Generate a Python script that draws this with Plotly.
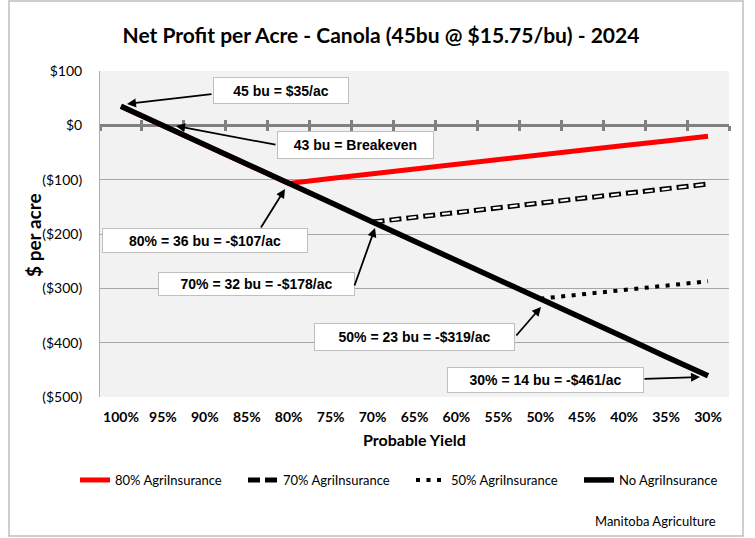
import plotly.graph_objects as go

# ---------------- data ----------------
categories = ["100%", "95%", "90%", "85%", "80%", "75%", "70%", "65%",
              "60%", "55%", "50%", "45%", "40%", "35%", "30%"]
no_insurance = [35, 0, -36, -71, -107, -142, -178, -213, -248, -284,
                -319, -355, -390, -426, -461]
ins_80 = [35, 0, -36, -71, -107, -98, -89, -81, -72, -63, -55, -46, -37, -29, -20]
ins_70 = [None] * 6 + [-178, -169, -160, -152, -143, -134, -126, -117, -108]
ins_50 = [None] * 10 + [-319, -311, -303, -295, -287]

y_ticks = [100, 0, -100, -200, -300, -400, -500]
y_tick_text = ["$100", "$0", "($100)", "($200)", "($300)", "($400)", "($500)"]

series_names = ["80% AgriInsurance", "70% AgriInsurance",
                "50% AgriInsurance", "No AgriInsurance"]

callouts = ["45 bu = $35/ac", "43 bu = Breakeven", "80% = 36 bu = -$107/ac",
            "70% = 32 bu = -$178/ac", "50% = 23 bu = -$319/ac",
            "30% = 14 bu = -$461/ac"]

# ---------------- layout geometry ----------------
W, H = 755, 538
L, R, T, B = 100, 26, 71, 141
PW, PH = W - L - R, H - T - B


def pxx(x):
    return (x - L) / PW


def pxy(y):
    return (H - B - y) / PH


CAL = "Lato, 'Open Sans', sans-serif"
ARI = "'Liberation Sans', Arial, sans-serif"

fig = go.Figure()

fig.add_trace(go.Scatter(x=categories, y=ins_80, name=series_names[0], mode="lines",
                         line=dict(color="#ff0000", width=5), hoverinfo="skip"))
fig.add_trace(go.Scatter(x=categories, y=ins_70, name=series_names[1], mode="lines",
                         line=dict(color="#000000", width=5, dash="12px,5px"),
                         hoverinfo="skip", legendgroup="g70"))
fig.add_trace(go.Scatter(x=categories, y=ins_70, name=series_names[1], mode="lines",
                         line=dict(color="#ffffff", width=2, dash="0px,2px,8px,7px"),
                         hoverinfo="skip", showlegend=False, legendgroup="g70"))
fig.add_trace(go.Scatter(x=categories, y=ins_50, name=series_names[2], mode="lines",
                         line=dict(color="#000000", width=4, dash="4px,6.5px"),
                         hoverinfo="skip"))
fig.add_trace(go.Scatter(x=categories, y=no_insurance, name=series_names[3], mode="lines",
                         line=dict(color="#000000", width=5.5), hoverinfo="skip"))

# invisible helper traces so the cross-tick axes at y=0 know the categories
for ax_id in ("x2", "x3"):
    fig.add_trace(go.Scatter(x=categories, y=no_insurance, xaxis=ax_id, mode="lines",
                             line=dict(width=0, color="rgba(0,0,0,0)"),
                             showlegend=False, hoverinfo="skip"))

zero_pos = (0 - y_ticks[-1]) / (y_ticks[0] - y_ticks[-1])

axis_common = dict(type="category", categoryorder="array", categoryarray=categories,
                   range=[-0.5, len(categories) - 0.5], automargin=False)

fig.update_layout(
    width=W, height=H,
    margin=dict(l=L, r=R, t=T, b=B, autoexpand=False),
    paper_bgcolor="#ffffff",
    plot_bgcolor="#f2f2f2",
    title=dict(text="Net Profit per Acre - Canola (45bu @ $15.75/bu) - 2024",
               x=381 / W, xanchor="center", xref="container",
               y=1 - 36 / H, yanchor="middle", yref="container",
               font=dict(family=CAL, size=21, color="#000000", weight="bold")),
    xaxis=dict(**axis_common, showgrid=False, showline=False, zeroline=False, ticks="",
               tickfont=dict(family=CAL, size=14, color="#000000", weight="bold"),
               ticklabelstandoff=10),
    xaxis2=dict(**axis_common, overlaying="x", anchor="free", position=zero_pos,
                showgrid=False, showline=False, zeroline=False, showticklabels=False,
                ticks="outside", tickson="boundaries", ticklen=5, tickwidth=3,
                tickcolor="#808080", layer="below traces"),
    xaxis3=dict(**axis_common, overlaying="x", anchor="free", position=zero_pos,
                showgrid=False, showline=False, zeroline=False, showticklabels=False,
                ticks="inside", tickson="boundaries", ticklen=5, tickwidth=3,
                tickcolor="#808080", layer="below traces"),
    yaxis=dict(range=[y_ticks[-1], y_ticks[0]], tickvals=y_ticks, ticktext=y_tick_text,
               automargin=False,
               showgrid=True, gridcolor="#a6a6a6", gridwidth=1,
               zeroline=True, zerolinecolor="#808080", zerolinewidth=3,
               showline=True, linecolor="#8eb4e3", linewidth=1,
               ticks="", ticklabelstandoff=14,
               tickfont=dict(family=CAL, size=14, color="#000000")),
    legend=dict(orientation="h", x=pxx(75), xanchor="left", y=pxy(480), yanchor="middle",
                font=dict(family=CAL, size=13, color="#000000"),
                entrywidth=123, entrywidthmode="pixels",
                bgcolor="rgba(0,0,0,0)", traceorder="normal"),
    showlegend=True,
)

# axis titles
fig.add_annotation(xref="paper", yref="paper", x=pxx(414), y=pxy(440),
                   xanchor="center", yanchor="middle", text="Probable Yield", showarrow=False,
                   font=dict(family=CAL, size=16, color="#000000", weight="bold"))
fig.add_annotation(xref="paper", yref="paper", x=pxx(33), y=pxy(235),
                   xanchor="center", yanchor="middle", text="$ per acre", showarrow=False,
                   textangle=-90,
                   font=dict(family=CAL, size=19, color="#000000", weight="bold"))

# chart border
fig.add_shape(type="rect", xref="paper", yref="paper",
              x0=pxx(9), x1=pxx(743), y0=pxy(536), y1=pxy(1),
              line=dict(color="#bfbfbf", width=1.5), fillcolor="rgba(0,0,0,0)", layer="below")

# callout boxes: (text, left, right, top, bottom) in pixels
boxes = [
    (callouts[0], 213, 348, 77, 103),
    (callouts[1], 277, 433, 131, 158),
    (callouts[2], 102, 307, 228, 252),
    (callouts[3], 158, 354, 272, 295),
    (callouts[4], 315, 515, 323, 350),
    (callouts[5], 447, 643, 367, 392),
]
for text, x0, x1, y0, y1 in boxes:
    fig.add_annotation(xref="paper", yref="paper", x=pxx((x0 + x1) / 2), y=pxy((y0 + y1) / 2),
                       xanchor="center", yanchor="middle", text=text, showarrow=False,
                       width=x1 - x0 - 3, height=y1 - y0 - 3, borderpad=1,
                       bgcolor="#ffffff", bordercolor="#bfbfbf", borderwidth=1,
                       font=dict(family=ARI, size=14, color="#000000", weight="bold"))

# arrows: (tail x, tail y, head x, head y) in pixels
arrows = [
    (213, 94, 127, 104),
    (277, 145, 176, 126),
    (260, 229, 285, 189),
    (354, 287, 375, 228),
    (515, 337, 541, 307),
    (643, 379, 700, 377),
]
for tx, ty, hx, hy in arrows:
    fig.add_annotation(xref="paper", yref="paper", x=pxx(hx), y=pxy(hy),
                       ax=tx - hx, ay=ty - hy, axref="pixel", ayref="pixel",
                       text="", showarrow=True, arrowhead=2, arrowsize=1,
                       arrowwidth=1.8, arrowcolor="#000000", standoff=0)

# footer
fig.add_annotation(xref="paper", yref="paper", x=pxx(718), y=pxy(521),
                   xanchor="right", yanchor="middle", text="Manitoba Agriculture",
                   showarrow=False, font=dict(family=CAL, size=13, color="#000000"))

fig.write_html("out.html", config={"displayModeBar": False},
               post_script="document.body.style.margin='0';")
